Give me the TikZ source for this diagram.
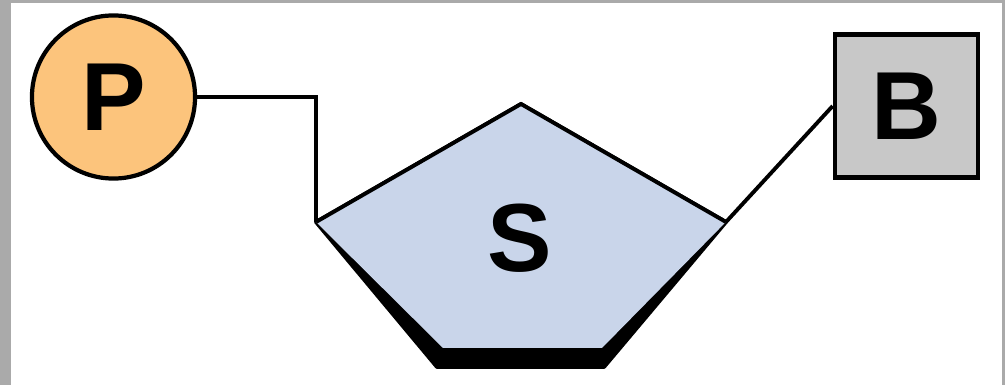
\documentclass[tikz,border=0pt]{standalone}
\usepackage{fontspec}
\setmainfont{Liberation Sans}
\usetikzlibrary{positioning}
\definecolor{phosfill}{RGB}{252,196,124}
\definecolor{sugarfill}{RGB}{201,213,234}
\definecolor{basefill}{RGB}{200,200,200}
\definecolor{framegray}{RGB}{170,170,170}

\begin{document}
\begin{tikzpicture}[x=0.01cm,y=-0.01cm,
    letter/.style={font=\fontsize{27.5}{30}\selectfont\bfseries},
    link/.style={line width=1.1pt}]
    % frame
    \fill[framegray] (0,0) rectangle (1005,385);
    \fill[white] (11,3) rectangle (1002,385);
    \useasboundingbox (0,0) rectangle (1005,385);

    \node[circle,draw,line width=1.2pt,fill=phosfill,minimum size=1.63cm,inner sep=0pt,letter] (P) at (113.5,97) {P};
    \node[rectangle,draw,line width=1.3pt,fill=basefill,minimum size=1.43cm,inner sep=0pt,letter] (B) at (906.5,106) {B};

    % sugar ring, thick front edges
    \coordinate (st) at (521,104);
    \coordinate (sl) at (316,222);
    \coordinate (sr) at (726,222);
    \coordinate (sbl) at (437,367);
    \coordinate (sbr) at (604,367);
    \filldraw[link,line join=round] (sl) -- (sbl) -- (sbr) -- (sr) -- (st) -- cycle;
    \fill[sugarfill] (st) -- (sl) -- (323,229) -- (443,348) -- (602,348) -- (719,229) -- (sr) -- cycle;
    \draw[link,line join=miter] (sl) -- (st) -- (sr);
    \node[letter] (S) at (520,238) {S};

    \draw[link] (P.east) -| (sl);
    \draw[link] (B.west) -- (sr);
  \end{tikzpicture}
\end{document}
